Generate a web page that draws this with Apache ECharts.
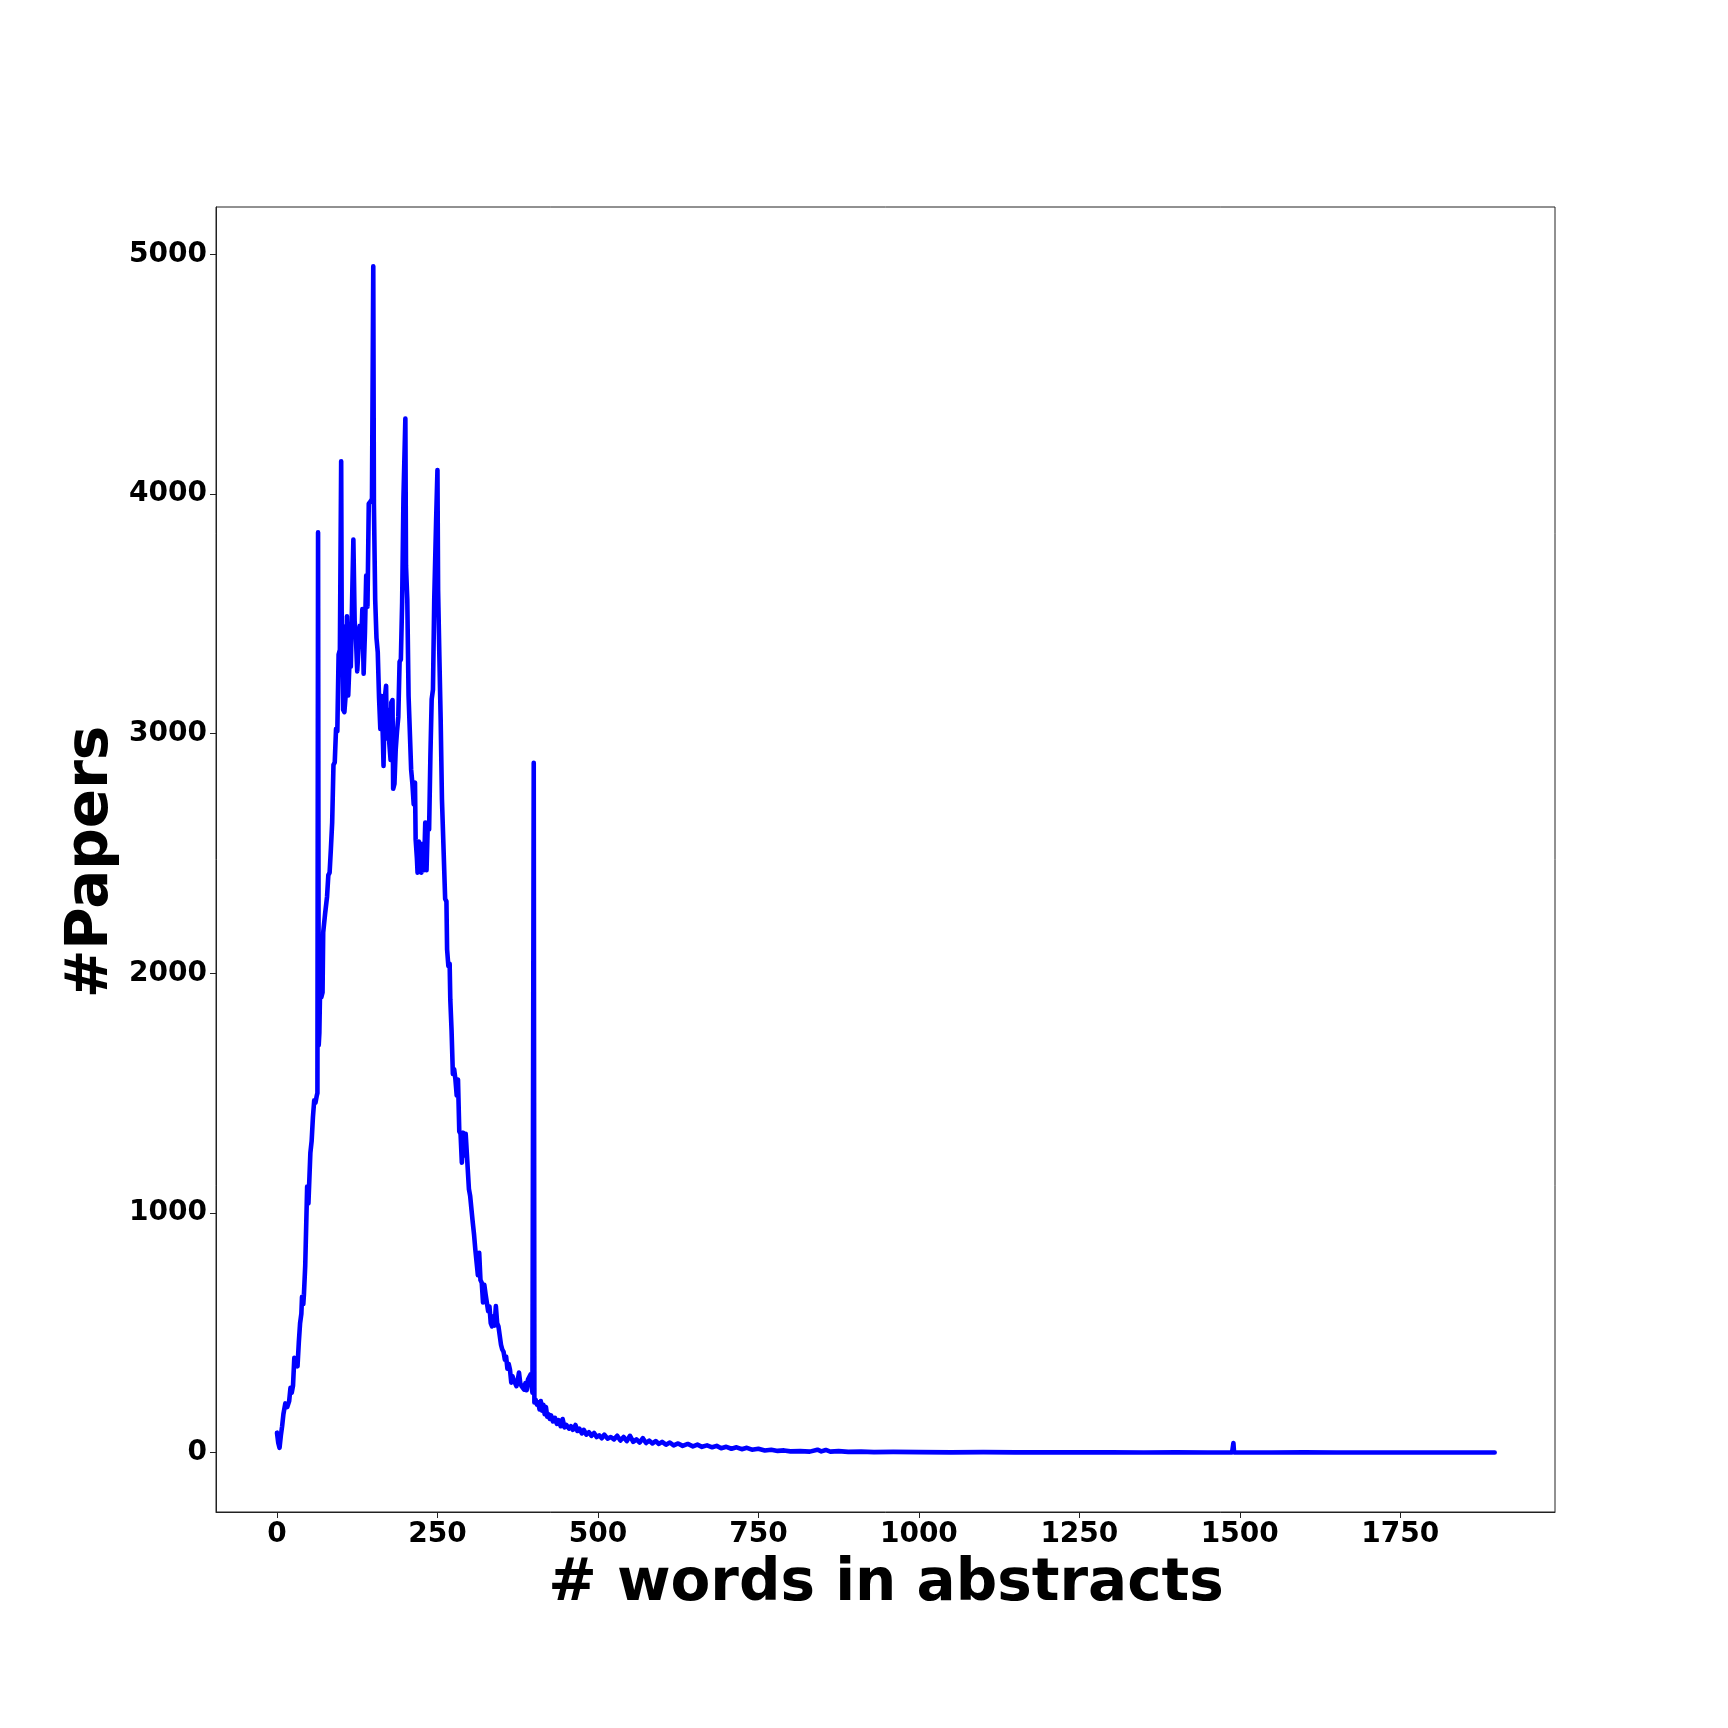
<!DOCTYPE html>
<html>
<head>
<meta charset="utf-8">
<script src="https://cdn.jsdelivr.net/npm/echarts@6/dist/echarts.min.js"></script>
<style>
html,body{margin:0;padding:0;background:#fff;}
#chart{width:1728px;height:1728px;}
</style>
</head>
<body>
<div id="chart"></div>
<script>
// ---- data ----
const words = [0,2,4,6,8,10,13,16,19,21,23,25,27,30,32,34,36,38,39,41,42,44,46,47,49,52,54,56,58,60,62,63,64,65,66,67,69,71,72,75,78,80,82,84,86,88,90,92,94,96,98,100,101,102,103,105,107,109,111,113,115,117,119,121,123,125,127,129,131,133,135,137,139,141,143,146,148,150,151,153,155,157,159,161,163,165,166,168,170,171,173,175,177,178,180,181,183,185,187,189,191,193,195,197,200,201,203,205,207,209,211,213,215,216,218,219,221,223,225,227,229,231,233,235,237,239,241,243,245,248,250,251,253,255,257,259,262,264,265,267,269,270,272,274,276,278,280,282,284,286,288,290,292,294,297,299,301,303,305,307,309,311,313,315,317,319,321,323,325,327,329,331,333,335,337,339,341,343,345,347,349,351,353,355,357,359,361,363,365,367,369,371,373,375,377,379,381,383,385,387,389,391,393,395,397,398,400,401,403,405,407,409,411,413,415,417,419,421,423,425,427,430,433,436,439,442,445,448,451,455,458,461,465,468,471,475,478,482,486,490,494,498,502,506,510,515,520,525,530,535,540,545,550,555,560,565,570,575,580,585,590,595,600,606,612,618,625,632,640,648,655,662,670,678,685,692,700,708,716,724,732,740,750,760,770,780,790,800,815,830,842,848,855,862,875,890,910,930,960,1000,1050,1100,1150,1200,1250,1300,1350,1400,1450,1488,1490,1491,1550,1600,1650,1700,1750,1800,1850,1897];
const papers = [83,40,20,70,110,160,205,190,215,270,250,280,395,370,360,460,540,580,650,620,660,780,1000,1110,1040,1250,1300,1400,1470,1460,1490,1500,3840,1700,1750,1910,1900,1920,2170,2250,2320,2410,2420,2520,2630,2870,2880,3020,3010,3330,3350,4137,3340,3450,3100,3090,3160,3490,3160,3300,3280,3550,3810,3470,3400,3260,3260,3450,3365,3520,3250,3420,3660,3530,3960,3970,3980,4951,3960,3560,3400,3340,3150,3020,3157,2976,2865,3150,3200,2980,3100,2960,2890,3130,3140,2770,2790,2935,3010,3070,3300,3310,3550,3980,4315,3700,3560,3157,3005,2850,2790,2705,2796,2560,2480,2420,2550,2520,2420,2540,2430,2629,2430,2629,2600,2906,3144,3184,3560,3900,4100,3600,3320,3059,2726,2560,2310,2300,2100,2030,2040,1891,1760,1580,1600,1557,1490,1557,1340,1330,1210,1335,1240,1330,1330,1100,1070,1014,960,910,847,793,740,834,720,709,626,700,660,668,590,610,540,527,569,530,611,540,527,527,450,430,420,388,400,350,370,346,292,318,300,290,277,300,334,290,277,280,263,290,260,305,310,326,270,250,2879,209,220,200,210,180,215,175,200,160,190,150,160,140,155,130,145,120,135,110,140,105,115,100,110,95,115,90,100,80,95,75,85,70,82,65,72,60,75,58,65,55,70,50,65,48,70,45,55,42,60,40,50,38,48,36,45,33,42,30,38,28,36,26,33,24,30,22,28,18,24,16,22,14,20,12,16,9,12,7,9,5,6,4,12,5,11,4,6,3,4,2,3,2,1,2,1,1,1,1,0,1,0,1,40,1,0,1,0,0,0,0,0,0];
const xTicks = [0,250,500,750,1000,1250,1500,1750];
const yTicks = [0,1000,2000,3000,4000,5000];
const xTitle = '# words in abstracts';
const yTitle = '#Papers';

const seriesData = words.map((w, i) => [w, papers[i]]);

const chart = echarts.init(document.getElementById('chart'), null, {renderer: 'canvas'});
const FONT = 'DejaVu Sans';
const plain = v => String(v);
const axisCommon = {
  axisLine: {show: true, onZero: false, lineStyle: {color: '#222', width: 1}},
  axisTick: {show: true, length: 6, lineStyle: {color: '#222', width: 1}},
  splitLine: {show: false},
  axisLabel: {color: '#000', fontFamily: FONT, fontWeight: 'bold', fontSize: 28, margin: 9, formatter: plain}
};
chart.setOption({
  animation: false,
  backgroundColor: '#fff',
  grid: {left: 216, right: 173, top: 207, bottom: 216, show: true, borderColor: '#222', borderWidth: 1, containLabel: false},
  xAxis: Object.assign({}, axisCommon, {
    type: 'value', min: -95, max: 1991,
    axisTick: Object.assign({}, axisCommon.axisTick, {customValues: xTicks}),
    axisLabel: Object.assign({}, axisCommon.axisLabel, {customValues: xTicks})
  }),
  yAxis: Object.assign({}, axisCommon, {
    type: 'value', min: -248, max: 5198,
    axisTick: Object.assign({}, axisCommon.axisTick, {customValues: yTicks}),
    axisLabel: Object.assign({}, axisCommon.axisLabel, {customValues: yTicks})
  }),
  series: [{
    type: 'line',
    data: seriesData,
    showSymbol: false,
    symbol: 'none',
    lineStyle: {color: '#0000ff', width: 4.6, join: 'round', cap: 'round'},
    itemStyle: {color: '#0000ff'}
  }],
  graphic: [
    {type: 'text', x: 886, y: 1585, style: {text: xTitle, fontFamily: FONT, fontWeight: 'bold', fontSize: 58, fill: '#000', textAlign: 'center', textVerticalAlign: 'middle'}},
    {type: 'text', x: 92, y: 862, rotation: Math.PI / 2, style: {text: yTitle, fontFamily: FONT, fontWeight: 'bold', fontSize: 58, fill: '#000', textAlign: 'center', textVerticalAlign: 'middle'}}
  ]
});
</script>
</body>
</html>
